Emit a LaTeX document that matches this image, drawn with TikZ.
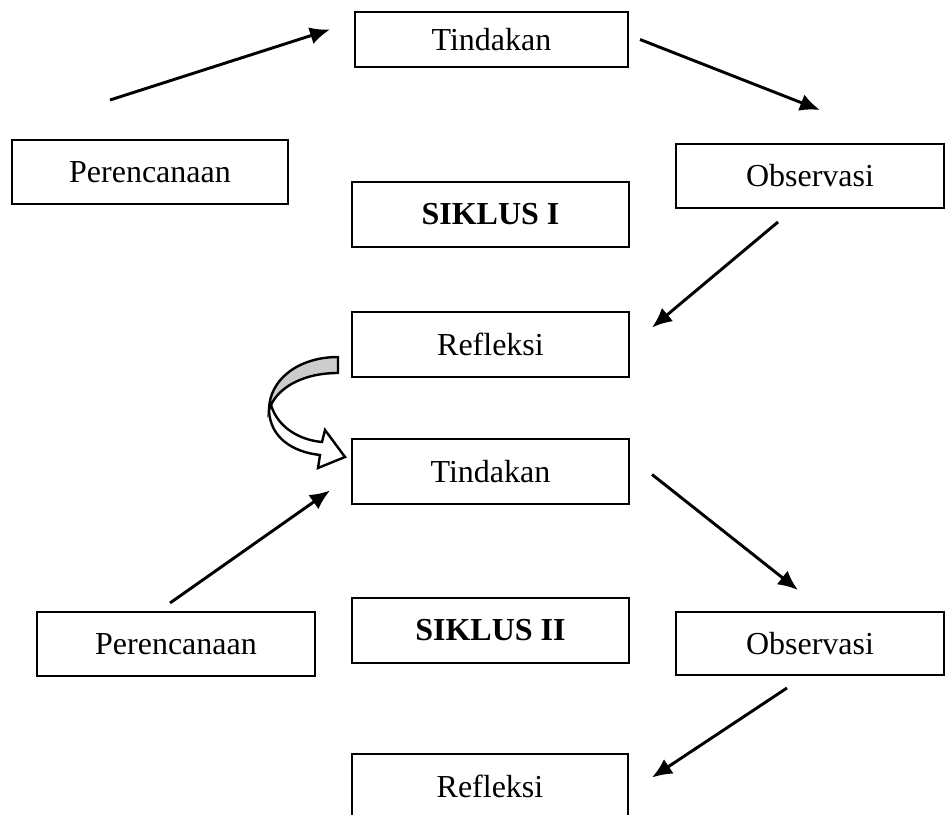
\documentclass[tikz,border=0pt]{standalone}
\usepackage{fontspec}
\setmainfont{Liberation Serif}
\usetikzlibrary{arrows.meta,positioning}
\tikzset{kotak/.style={draw, line width=0.8pt, inner sep=0pt, outer sep=0pt, font=\fontsize{12}{14}\selectfont, minimum width=103.9pt, minimum height=24.4pt}}
\tikzset{arr/.style={draw, -{Latex[length=7.5pt,width=6.5pt]}, line width=1.1pt}}

\begin{document}
\begin{tikzpicture}[x=0.375pt, y=-0.375pt]
		\useasboundingbox (0,0) rectangle (945,814);
		\clip (0,0) rectangle (945,814);
		
		% siklus I
		\node[kotak, minimum width=102.4pt, minimum height=20.6pt] (tin1) at (491.5,39.5){Tindakan};
		\node[kotak, minimum width=103.5pt, minimum height=24pt] (per1) at (150,172){Perencanaan};
		\node[kotak, minimum width=100.5pt, minimum height=24pt] (obs1) at (810,176){Observasi};
		\node[kotak] (sik1) at (490.5,214.5){\textbf{SIKLUS I}};
		\node[kotak] (refl1) at (490.5,344.5){Refleksi};
		
		\draw[arr] ([shift={(-40,-40)}]per1.north) -- ([shift={(-25,-10)}]tin1.west);
		\draw[arr] ([shift={(12,0)}]tin1.east) -- ([shift={(10,-34)}]obs1.north);
		\draw[arr] ([shift={(-32,14)}]obs1.south) -- ([shift={(23,-17)}]refl1.east);
		
		% siklus II
		\node[kotak] (tin2) at (490.5,471.5){Tindakan};
		\node[kotak, minimum width=104.3pt, minimum height=24pt] (per2) at (176,644){Perencanaan};
		\node[kotak] (sik2) at (490.5,630.5){\textbf{SIKLUS II}};
		\node[kotak, minimum width=100.5pt, minimum height=23.6pt] (obs2) at (810,643.5){Observasi};
		\node[kotak, minimum width=103.5pt] (refl2) at (490,786.5){Refleksi};
		
		\draw[arr] ([shift={(-6,-9)}]per2.north) -- ([shift={(-22,19)}]tin2.west);
		\draw[arr] ([shift={(23,3)}]tin2.east) -- ([shift={(-12,-22)}]obs2.north);
		\draw[arr] ([shift={(-23,13)}]obs2.south) -- ([shift={(24,-9)}]refl2.east);
		
		% panah lengkung refleksi -> tindakan
		\begin{scope}[line width=0.9pt, line join=miter]
			\filldraw[fill=black!20] (338,357) .. controls (298,357) and (269,380) .. (269,410)
				.. controls (275,390) and (300,373) .. (338,373) -- cycle;
			\filldraw[fill=white] (269,410) .. controls (270,438) and (293,452) .. (320,455)
				-- (318,468) -- (345,457) -- (325,430) -- (322,442)
				.. controls (300,440) and (278,428) .. (271,405) -- cycle;
		\end{scope}
\end{tikzpicture}
\end{document}
